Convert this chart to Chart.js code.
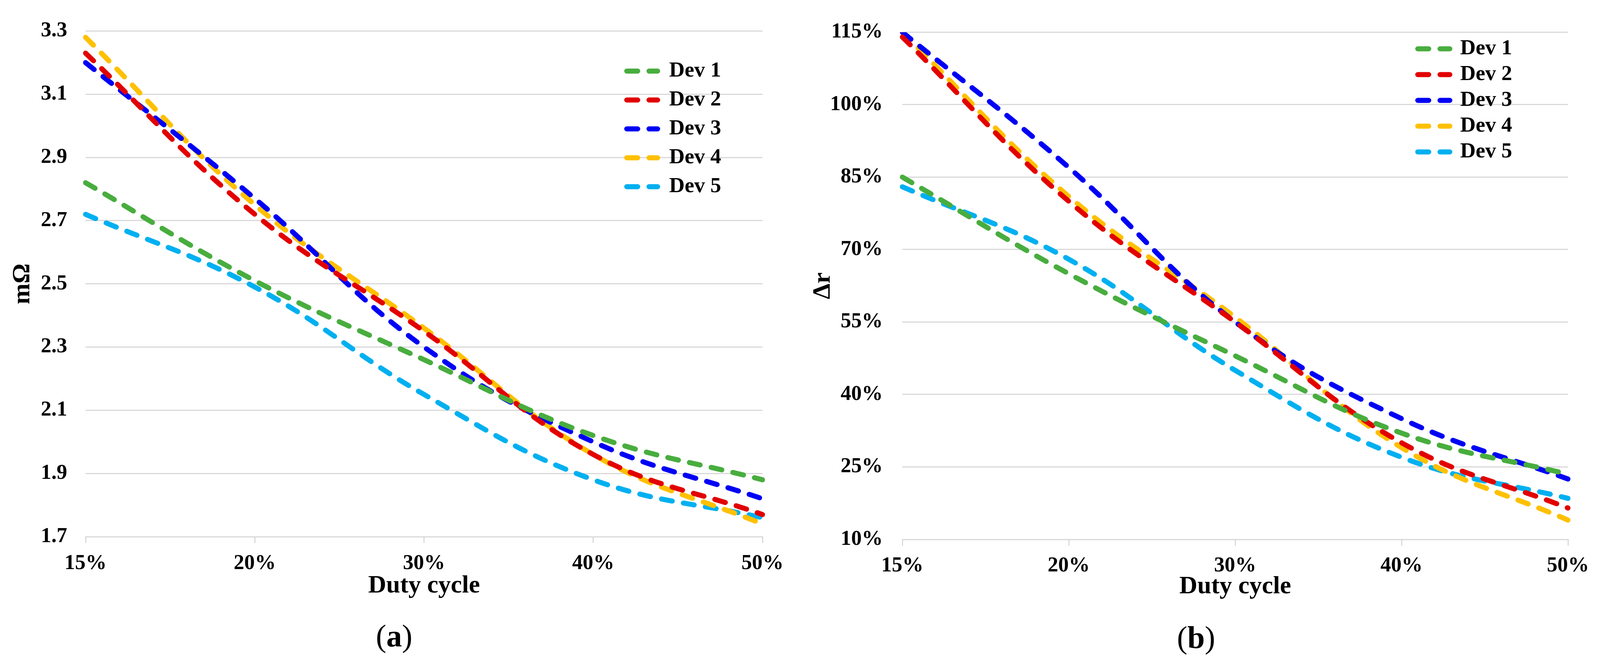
<!DOCTYPE html>
<html><head><meta charset="utf-8">
<script src="https://cdn.jsdelivr.net/npm/chart.js@4.4.1/dist/chart.umd.min.js"></script>
<style>
html,body{margin:0;padding:0;background:#fff;overflow:hidden;}
canvas{position:absolute;top:0;}
.cap{position:absolute;font-family:'Liberation Serif','Times New Roman',serif;font-size:80px;line-height:1;transform:translate(-50%,-50%);color:#000;white-space:nowrap;}
</style></head><body>
<canvas id="c1"></canvas>
<canvas id="c2"></canvas>
<div class="cap" id="capA">(<b>a</b>)</div>
<div class="cap" id="capB">(<b>b</b>)</div>
<script>
// ---- data ----
const dutyCycle = ['15%', '20%', '30%', '40%', '50%'];
const deviceNames = ['Dev 1', 'Dev 2', 'Dev 3', 'Dev 4', 'Dev 5'];

// (a) resistance, mΩ
const resDev1 = [2.82, 2.51, 2.26, 2.02, 1.88];
const resDev2 = [3.23, 2.72, 2.35, 1.96, 1.77];
const resDev3 = [3.20, 2.77, 2.30, 2.00, 1.82];
const resDev4 = [3.28, 2.75, 2.36, 1.96, 1.74];
const resDev5 = [2.72, 2.49, 2.15, 1.88, 1.76];

// (b) Δr, %
const drDev1 = [85, 65, 48, 32, 23.5];
const drDev2 = [114, 80, 55, 30, 16.5];
const drDev3 = [115, 87, 55, 35, 22.5];
const drDev4 = [115, 81, 56, 29, 14];
const drDev5 = [83, 68, 45, 27, 18.5];

// ---- styling / layout ----
const seriesColors = ['#48AD3E', '#E20000', '#0000F5', '#FFC000', '#00B0F0'];
const FONT = "'Liberation Serif', 'Times New Roman', serif";
const GRID = '#d9d9d9';
const DESIGN_W = 4345, H = 1700;
const VW = Math.min(window.innerWidth || DESIGN_W, DESIGN_W);
const k = VW / DESIGN_W;           // horizontal fit factor
const X = (v) => Math.round(v * k);

const dashLegend = {
  id: 'dashLegend',
  afterDatasetsDraw(chart, args, o) {
    const ctx = chart.ctx;
    ctx.save();
    chart.data.datasets.forEach((ds, i) => {
      const y = o.y0 + i * o.dy;
      ctx.strokeStyle = ds.borderColor;
      ctx.lineWidth = ds.borderWidth;
      ctx.lineCap = 'round';
      ctx.setLineDash(ds.borderDash);
      ctx.beginPath();
      ctx.moveTo(o.x0 + ds.borderWidth / 2, y);
      ctx.lineTo(o.x1 - ds.borderWidth / 2, y);
      ctx.stroke();
      ctx.setLineDash([]);
      ctx.fillStyle = '#000';
      ctx.font = 'bold 55px ' + FONT;
      ctx.textBaseline = 'middle';
      ctx.textAlign = 'left';
      ctx.fillText(ds.label, o.tx, y);
    });
    ctx.restore();
  }
};

function makeChart(id, left, width, series, cfg) {
  const cv = document.getElementById(id);
  cv.width = width; cv.height = H;
  cv.style.left = left + 'px';
  cv.style.width = width + 'px'; cv.style.height = H + 'px';
  const datasets = series.map((vals, i) => ({
    label: deviceNames[i],
    data: vals,
    borderColor: seriesColors[i],
    backgroundColor: seriesColors[i],
    borderWidth: 13,
    borderDash: [28, 29],
    borderCapStyle: 'round',
    pointRadius: 0,
    tension: 0.4,
    fill: false
  }));
  return new Chart(cv, {
    type: 'line',
    data: { labels: dutyCycle, datasets },
    options: {
      responsive: false,
      devicePixelRatio: 1,
      animation: false,
      layout: { padding: cfg.padding },
      plugins: {
        legend: { display: false },
        tooltip: { enabled: false },
        dashLegend: cfg.legend
      },
      scales: {
        x: {
          grid: { display: true, drawOnChartArea: false, drawTicks: true, tickLength: 16, color: GRID, lineWidth: 3 },
          border: { display: true, color: GRID, width: 3 },
          ticks: { color: '#000', font: { family: FONT, size: 54, weight: 'bold', lineHeight: 1.2 }, padding: cfg.xTickPad, maxRotation: 0, autoSkip: false },
          title: { display: true, text: 'Duty cycle', color: '#000', font: { family: FONT, size: 64, weight: 'bold', lineHeight: 1 }, padding: { top: 0, bottom: 0 } },
          afterFit: (s) => { s.height = cfg.xHeight; }
        },
        y: {
          min: cfg.yMin, max: cfg.yMax,
          grid: { color: GRID, lineWidth: 3, drawTicks: false },
          border: { display: false },
          ticks: { stepSize: cfg.yStep, color: '#000', font: { family: FONT, size: 54, weight: 'bold', lineHeight: 1.2 }, padding: cfg.yTickPad, callback: cfg.yFmt },
          title: { display: true, text: cfg.yTitle, color: '#000', font: { family: FONT, size: 64, weight: 'bold', lineHeight: 1 }, padding: { top: cfg.yTitlePad, bottom: 0 } },
          afterFit: (s) => { s.width = cfg.yWidth; }
        }
      }
    },
    plugins: [dashLegend]
  });
}

// left chart: design coords, plot area x 232..2071, y 56..1374
const w1 = X(2172);
makeChart('c1', 0, w1, [resDev1, resDev2, resDev3, resDev4, resDev5], {
  padding: { left: 0, top: 56, right: w1 - X(2071), bottom: 168 },
  xHeight: 158, yWidth: X(232), xTickPad: 21, yTickPad: X(232) - X(182), yTitlePad: X(62) - 32,
  yMin: 1.7, yMax: 3.3, yStep: 0.2, yTitle: 'mΩ',
  yFmt: (v) => Number(v).toFixed(1),
  legend: { x0: X(1695), x1: X(1793), tx: X(1817), y0: 182, dy: 74 }
});

// right chart: design coords, plot area x 2450..4258, y 46..1381
const l2 = X(2172), w2 = VW - l2;
makeChart('c2', l2, w2, [drDev1, drDev2, drDev3, drDev4, drDev5], {
  padding: { left: 0, top: 46, right: VW - X(4258), bottom: 166 },
  xHeight: 153, yWidth: X(2450) - l2, xTickPad: 20, yTickPad: X(2450) - X(2397), yTitlePad: X(2235) - l2 - 32,
  yMin: 10, yMax: 115, yStep: 15, yTitle: 'Δr',
  yFmt: (v) => Math.round(v) + '%',
  legend: { x0: X(3843) - l2, x1: X(3944) - l2, tx: X(3965) - l2, y0: 125, dy: 66 }
});

const capA = document.getElementById('capA');
capA.style.left = X(1070) + 'px'; capA.style.top = '1628px';
const capB = document.getElementById('capB');
capB.style.left = X(3248) + 'px'; capB.style.top = '1632px';
</script>
</body></html>
